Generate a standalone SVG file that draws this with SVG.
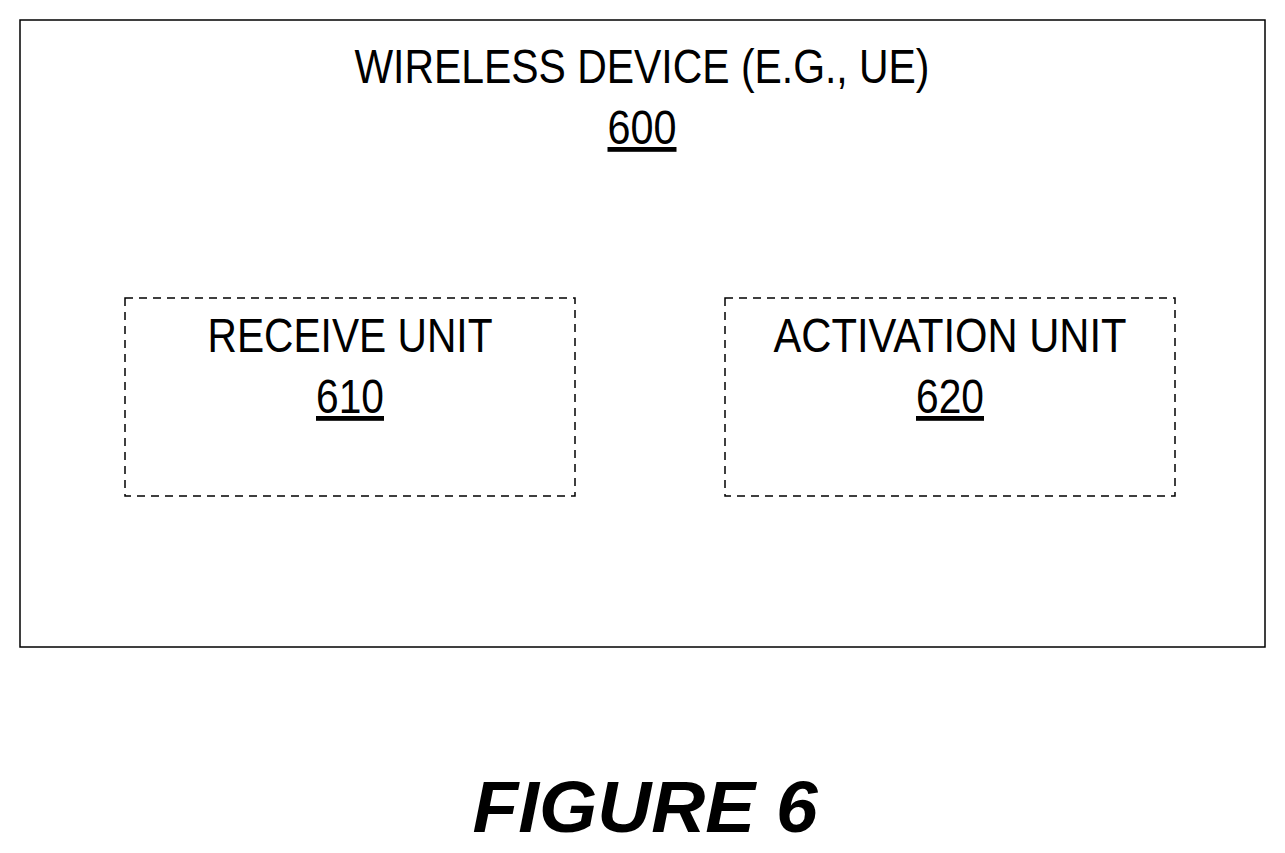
<svg xmlns="http://www.w3.org/2000/svg" width="1285" height="853" viewBox="0 0 1285 853">
<style>
.t{font-family:"Liberation Sans",Arial,sans-serif;font-size:48px;fill:#000;text-anchor:middle}
.u{text-decoration:underline}
.box{fill:none;stroke:#000;stroke-width:1.5}
.dash{fill:none;stroke:#000;stroke-width:1.5;stroke-dasharray:8,6}
</style>
<rect width="1285" height="853" fill="#fff"/>
<g id="wireless-device">
<rect class="box" x="20" y="20" width="1245" height="627"/>
<text class="t" x="642" y="83" textLength="575" lengthAdjust="spacingAndGlyphs">WIRELESS DEVICE (E.G., UE)</text>
<text class="t u" x="642" y="144" textLength="69" lengthAdjust="spacingAndGlyphs">600</text>
</g>
<g id="receive-unit">
<rect class="dash" x="125" y="298" width="450" height="198"/>
<text class="t" x="350" y="352" textLength="285" lengthAdjust="spacingAndGlyphs">RECEIVE UNIT</text>
<text class="t u" x="350" y="413" textLength="68" lengthAdjust="spacingAndGlyphs">610</text>
</g>
<g id="activation-unit">
<rect class="dash" x="725" y="298" width="450" height="198"/>
<text class="t" x="950" y="352" textLength="353" lengthAdjust="spacingAndGlyphs">ACTIVATION UNIT</text>
<text class="t u" x="950" y="413" textLength="68" lengthAdjust="spacingAndGlyphs">620</text>
</g>
<g id="connectors"/>
<text x="645" y="832" font-family="Liberation Sans,Arial,sans-serif" font-size="72" font-weight="bold" font-style="italic" text-anchor="middle" textLength="345" lengthAdjust="spacingAndGlyphs">FIGURE 6</text>
</svg>
